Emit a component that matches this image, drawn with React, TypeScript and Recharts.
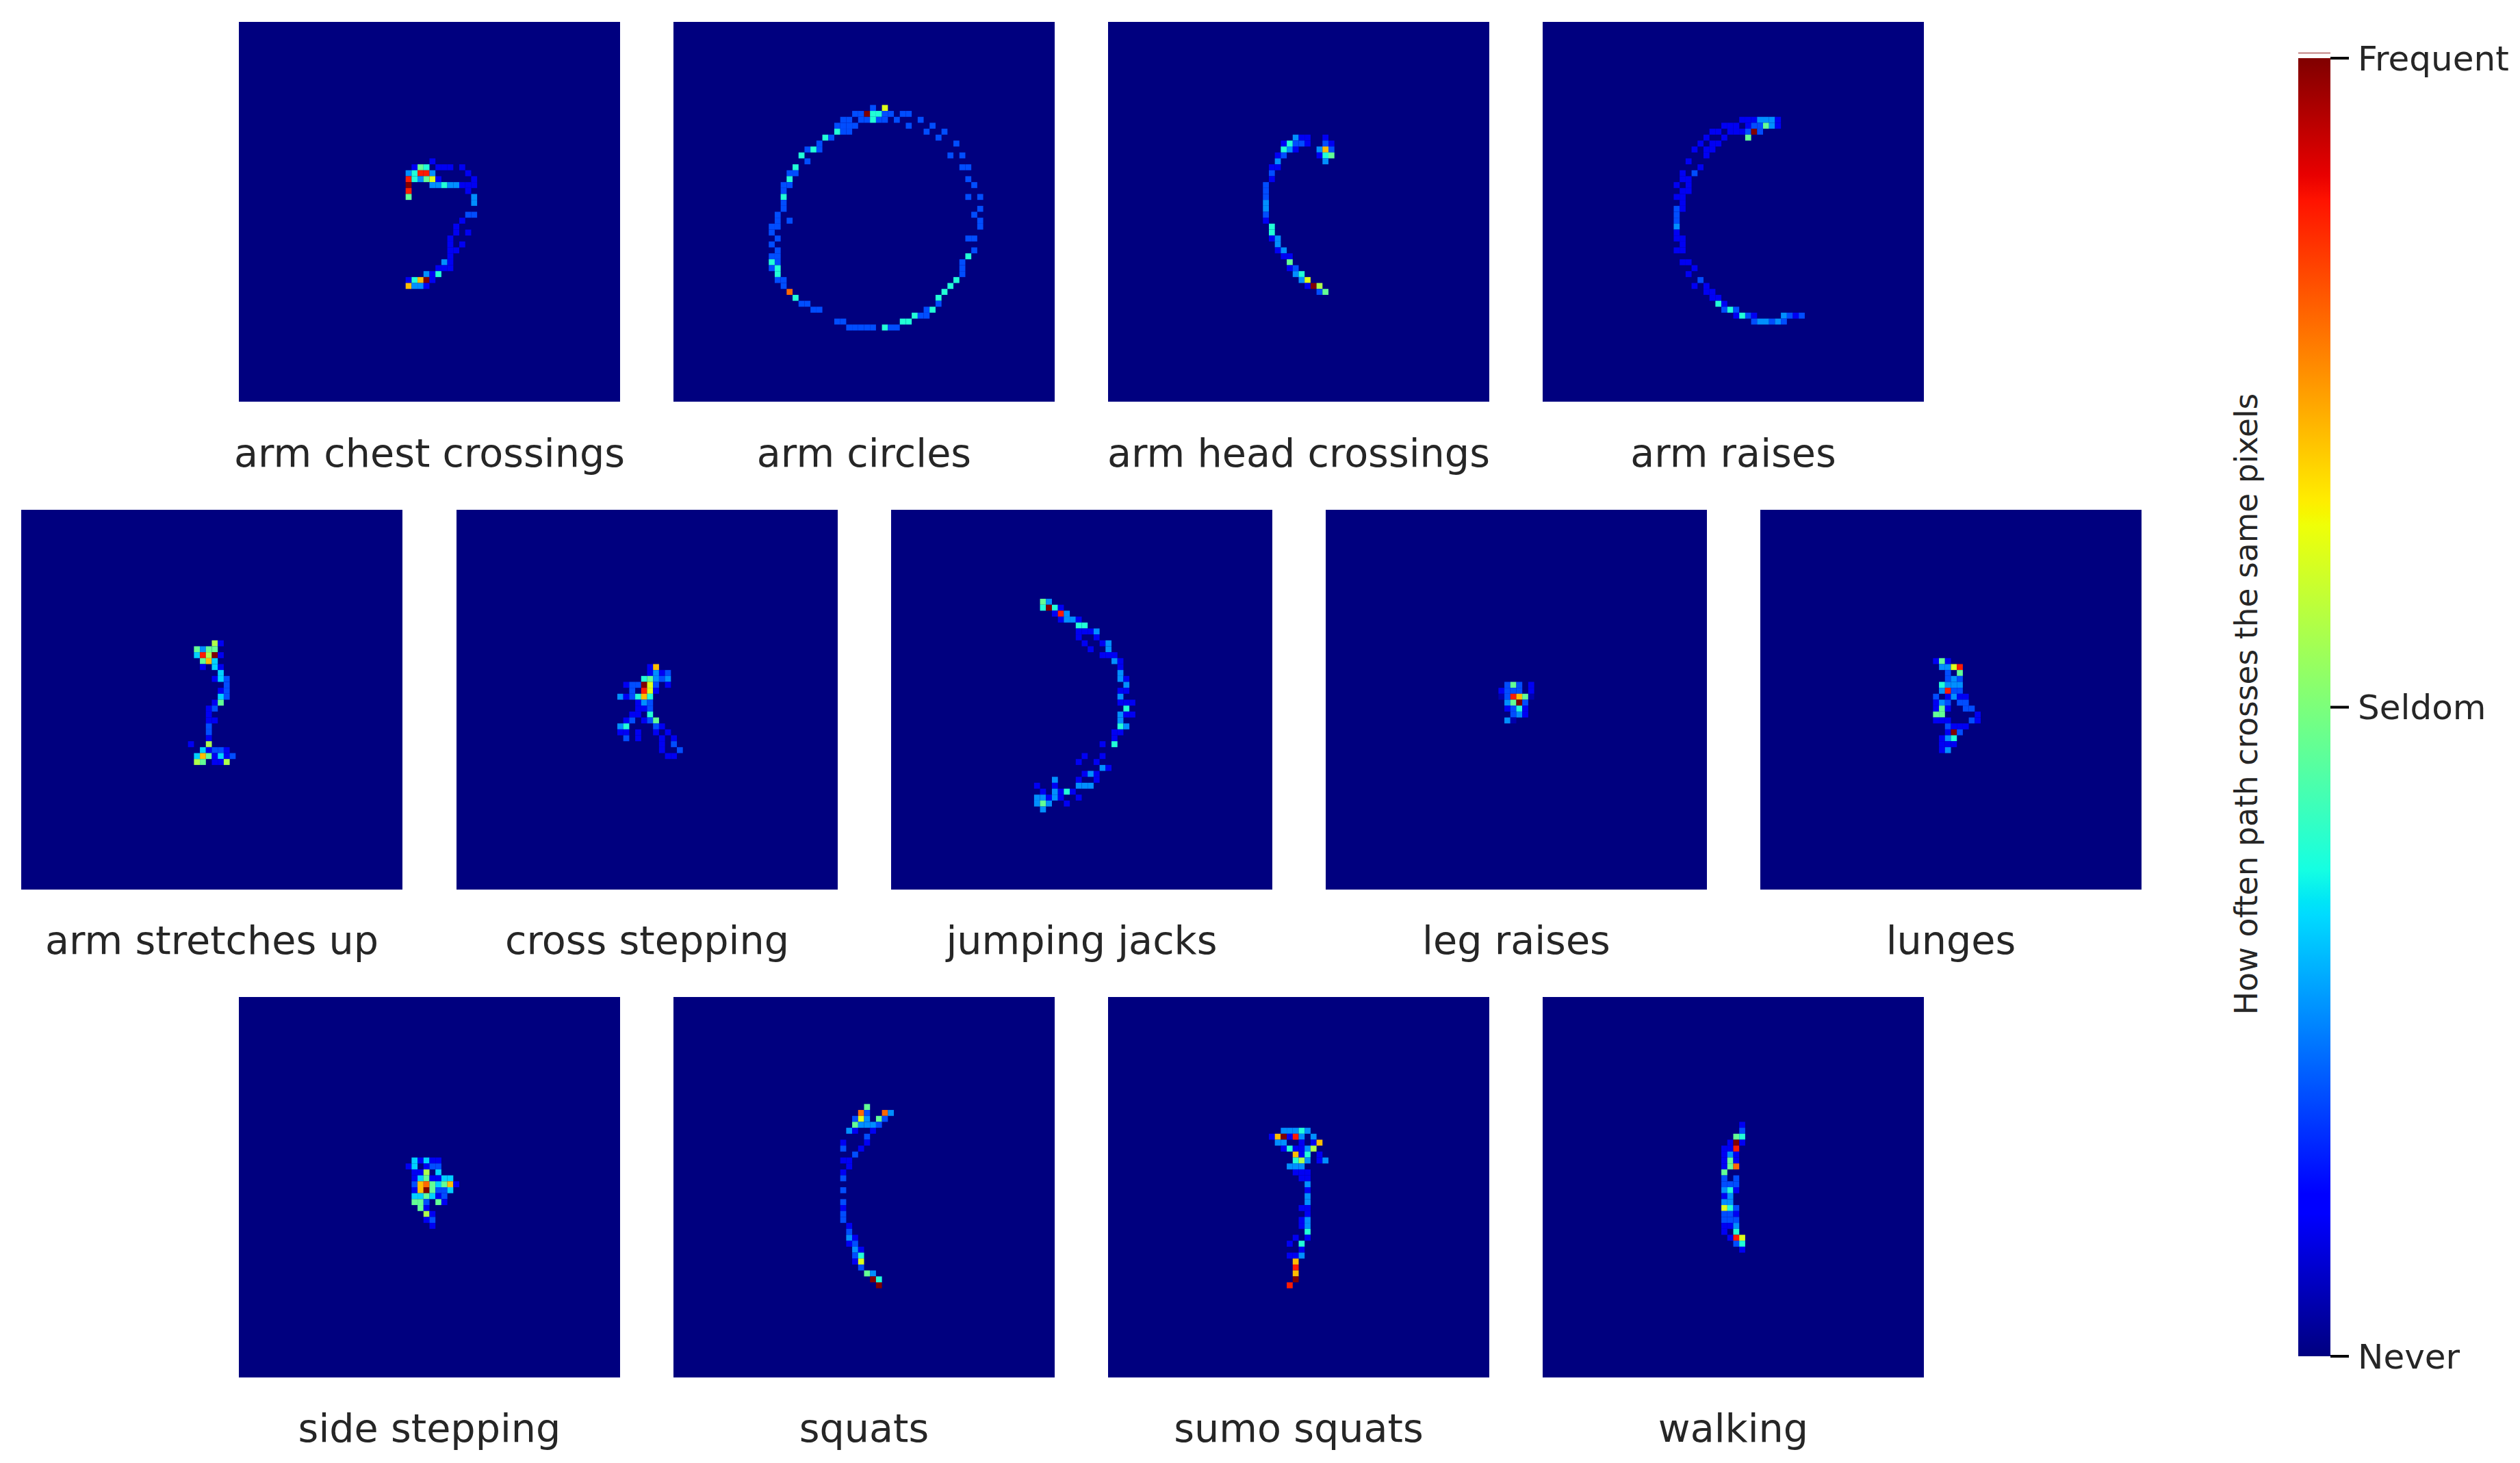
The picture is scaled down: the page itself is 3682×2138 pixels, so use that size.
import React from 'react';
import { Bar, BarChart, ReferenceLine, Scatter, ScatterChart, XAxis, YAxis } from 'recharts';

// [row, col, levels] relative to the panel's first active cell, '.' = never visited
type Run = [number, number, string];

const GRID_SIZE = 64;
const NAVY = '#00007f';
const TEXT = '#262626';

const categories = [
  'arm chest crossings', 'arm circles', 'arm head crossings', 'arm raises',
  'arm stretches up', 'cross stepping', 'jumping jacks', 'leg raises', 'lunges',
  'side stepping', 'squats', 'sumo squats', 'walking',
];

const levelValues: Record<string, number> = {
  '0': 0.04, '1': 0.1, '2': 0.2, '3': 0.265, '4': 0.33, '5': 0.39, '6': 0.47,
  '7': 0.56, '8': 0.62, '9': 0.71, o: 0.8, r: 0.88, x: 1,
};

const armChestCrossings: Run[] = [
  [0, 4, '1'], [1, 1, '165.111.1'], [2, 0, '35rr3.....1'], [3, 0, 'r53681.....1'],
  [4, 0, 'x...33533111'], [5, 0, 'r.........1'], [6, 0, '6..........3'], [7, 11, '3'],
  [9, 10, '22'], [10, 9, '1'], [11, 8, '1'], [12, 8, '1.1'], [13, 7, '1'], [14, 7, '1.1'],
  [15, 7, '11'], [16, 7, '1'], [17, 6, '31'], [18, 5, '111'], [19, 3, '315'],
  [20, 0, '159x1'], [21, 0, '9331'],
];

const armCircles: Run[] = [
  [0, 17, '2.8'], [1, 14, '22x5522.22'], [2, 12, '22.22522.2'], [2, 25, '2'],
  [3, 11, '2222'], [3, 23, '2...2'], [4, 11, '522'], [4, 26, '2..2'], [5, 9, '52'], [5, 28, '2'],
  [6, 8, '2'], [6, 31, '2'], [7, 6, '252'], [8, 5, '5'], [8, 30, '2.2'], [9, 6, '2'],
  [10, 4, '5'], [10, 32, '22'], [11, 3, '22'], [12, 3, '5'], [12, 33, '2'], [13, 2, '22'], [13, 34, '2'],
  [14, 2, '2'], [15, 2, '5'], [15, 33, '2.2'], [16, 2, '2'], [17, 2, '2'], [17, 35, '2'],
  [18, 1, '2'], [18, 34, '2'], [19, 1, '2.2'], [19, 35, '2'], [20, 0, '22'], [20, 35, '2'],
  [21, 0, '2'], [22, 1, '2'], [22, 33, '22'], [23, 0, '2'], [24, 1, '2'], [24, 34, '2'],
  [25, 0, '22'], [25, 33, '5'], [26, 0, '52'], [26, 32, '2'], [27, 0, '25'], [27, 32, '2'],
  [28, 1, '5'], [28, 32, '2'], [29, 1, '22'], [29, 31, '5'], [30, 2, '2'], [30, 30, '5'],
  [31, 3, 'o'], [31, 29, '5'], [32, 4, '5'], [32, 28, '5'], [33, 5, '22'], [33, 28, '2'],
  [34, 7, '22'], [34, 26, '25'], [35, 24, '522'], [36, 11, '22'], [36, 22, '55'],
  [37, 13, '22222.522'],
];

const armHeadCrossings: Run[] = [
  [0, 5, '311'], [0, 10, '1'], [1, 3, '15221'], [1, 10, '21'], [2, 3, '531'], [2, 9, '392'],
  [3, 2, '12'], [3, 9, '156'], [4, 2, '3'], [4, 10, '3'], [5, 1, '11'], [6, 1, '2'], [7, 1, '1'],
  [8, 0, '2'], [9, 0, '2'], [10, 0, '2'], [11, 0, '3'], [12, 0, '3'], [13, 0, '2'], [14, 0, '1'],
  [15, 1, '5'], [16, 1, '5'], [17, 1, '13'], [18, 2, '3'], [19, 2, '13'], [20, 3, '11'],
  [21, 4, '6'], [22, 4, '12'], [23, 5, '35'], [24, 6, '38'], [25, 7, '1x7'], [26, 9, '26'],
];

const armRaises: Run[] = [
  [0, 11, '1113331'], [1, 8, '111'], [1, 12, '122631'], [2, 6, '11'], [2, 9, '1112x2'],
  [3, 5, '1'], [3, 8, '1'], [3, 12, '6'], [4, 4, '1'], [4, 6, '11'], [5, 3, '1'], [5, 5, '11'],
  [6, 5, '1'], [7, 2, '1'], [8, 4, '1'], [9, 1, '1.2'], [10, 1, '11'], [11, 0, '1.1'],
  [12, 1, '11'], [13, 0, '11'], [14, 1, '1'], [15, 0, '21'], [16, 0, '2'], [17, 0, '2'],
  [18, 0, '3'], [19, 0, '1'], [20, 0, '11'], [21, 1, '1'], [22, 0, '11'], [24, 1, '11'],
  [25, 3, '1'], [26, 2, '1'], [27, 4, '2'], [28, 3, '1.1'], [29, 5, '11'], [30, 6, '11'],
  [31, 7, '51'], [32, 8, '252'], [33, 10, '1521'], [33, 18, '3212'], [34, 13, '233232'],
];

const armStretchesUp: Run[] = [
  [0, 4, '71'], [1, 1, '6366'], [2, 1, '4r7x1'], [3, 2, '694'], [4, 2, '1.41'], [5, 5, '4'],
  [6, 4, '142'], [7, 6, '2'], [8, 5, '12'], [9, 5, '42'], [10, 4, '16'], [11, 3, '12'],
  [12, 3, '1'], [13, 3, '11'], [14, 3, '2'], [15, 3, '2'], [16, 3, '1'], [17, 0, '1..7'],
  [18, 2, '41221'], [19, 1, '4961412'], [20, 1, '76.117'],
];

const crossStepping: Run[] = [
  [0, 5, '19'], [1, 5, '1312'], [2, 4, '56323'], [3, 1, '122x82.1'], [4, 2, '2.r81'],
  [5, 0, '312595'], [6, 3, '132'], [7, 3, '112'], [8, 2, '11.5'], [9, 1, '12.126'],
  [10, 0, '35....21'], [11, 0, '11.1..1.1'], [12, 1, '2.1...1.1'], [13, 7, '1.2'],
  [14, 7, '1..2'], [15, 8, '11'],
];

const jumpingJacks: Run[] = [
  [0, 1, '63'], [1, 1, '5x51'], [2, 3, '1r3'], [3, 4, '1331'], [4, 7, '55'], [5, 7, '1113'],
  [6, 7, '1..1'], [7, 8, '1..13'], [8, 9, '1..3'], [9, 11, '111'], [10, 13, '31'], [11, 14, '1'],
  [12, 14, '3'], [13, 14, '31'], [14, 15, '3'], [15, 14, '11'], [16, 14, '3'], [17, 14, '111'],
  [18, 15, '5'], [19, 14, '311'], [20, 14, '3'], [21, 14, '53'], [22, 13, '11'], [23, 13, '1'],
  [24, 11, '1.5'], [26, 8, '1..1'], [27, 7, '1..1'], [28, 11, '31'], [29, 8, '131'],
  [30, 3, '3...1..1'], [31, 0, '1..1...333'], [32, 1, '1.3151'], [33, 0, '33131..1'],
  [34, 0, '363..1'], [35, 1, '3'],
];

const legRaises: Run[] = [
  [0, 1, '262.1'], [1, 0, '1222.1'], [2, 0, '02r960'], [3, 1, '36x2'], [4, 1, '1251'],
  [5, 2, '231'], [6, 1, '30'],
];

const lunges: Run[] = [
  [0, 0, '161'], [1, 1, '338r'], [2, 2, '2.6'], [3, 2, '232'], [4, 1, '5333'], [5, 1, '3r22'],
  [6, 0, '2.1311'], [7, 0, '132.22'], [8, 0, '161..22'], [9, 0, '66.....1'], [10, 0, '111...21'],
  [11, 2, '2111'], [12, 2, '1x2'], [13, 1, '135'], [14, 1, '111'], [15, 1, '13'],
];

const sideStepping: Run[] = [
  [0, 1, '41411'], [1, 0, '14.122'], [2, 1, '117.4'], [3, 1, '1461144'], [4, 1, '29o64691'],
  [5, 1, '19x6224'], [6, 1, '446412'], [7, 1, '662.61'], [8, 2, '61'], [9, 3, '71'],
  [10, 3, '12'], [11, 4, '1'],
];

const squats: Run[] = [
  [0, 4, '6'], [1, 3, 'o2..o3'], [2, 2, '283.62'], [3, 2, '63332'], [4, 1, '31..1'], [5, 4, '2'],
  [6, 0, '1...1'], [7, 0, '2..1'], [8, 2, '2'], [9, 0, '11'], [10, 1, '1'], [11, 0, '1'],
  [12, 0, '2'], [14, 0, '2'], [16, 0, '2'], [17, 0, '1'], [18, 0, '2'], [19, 0, '2'], [20, 1, '1'],
  [21, 1, '2'], [22, 1, '31'], [23, 1, '12'], [24, 2, '31'], [25, 2, '25'], [26, 2, '18'],
  [27, 3, '2'], [28, 4, '63'], [29, 5, 'x5'], [30, 6, 'x'],
];

const sumoSquats: Run[] = [
  [0, 2, '33353'], [1, 0, '19x1r3.3'], [2, 1, '33..1.19'], [3, 2, '151137'], [4, 4, '915.1'],
  [5, 4, '573.13'], [6, 3, '333'], [7, 4, '111'], [8, 5, '11'], [9, 6, '3'], [10, 6, '1'],
  [11, 6, '3'], [12, 6, '3'], [13, 5, '11'], [14, 6, '1'], [15, 5, '13'], [16, 5, '13'],
  [17, 6, '5'], [18, 4, '1.1'], [19, 3, '1.5'], [20, 5, '1'], [21, 3, '113'], [22, 4, '9'],
  [23, 4, 'r'], [24, 4, '9'], [25, 4, 'x'], [26, 3, 'r'],
];

const walking: Run[] = [
  [0, 3, '1'], [1, 3, '2'], [2, 2, '65'], [3, 1, '1x1'], [4, 0, '11r'], [5, 0, '131'], [6, 0, '161'],
  [7, 0, '16o'], [8, 0, '6'], [9, 0, '2.2'], [10, 0, '222'], [11, 0, '351'], [12, 0, '13'],
  [13, 0, '33'], [14, 0, '852'], [15, 0, '221'], [16, 0, '222'], [17, 0, '113'], [18, 0, '1.5'],
  [19, 1, '1r8'], [20, 2, '25'], [21, 3, '1'],
];

const panelRuns = [
  armChestCrossings, armCircles, armHeadCrossings, armRaises,
  armStretchesUp, crossStepping, jumpingJacks, legRaises, lunges,
  sideStepping, squats, sumoSquats, walking,
];

// grid cell of each panel's first active cell [col, row]
const runOrigins: [number, number][] = [
  [28, 23], [16, 14], [26, 19], [22, 16],
  [28, 22], [27, 26], [24, 15], [29, 29], [29, 25],
  [28, 27], [28, 18], [27, 22], [30, 21],
];

const colorbarTicks = [0, 0.5, 1];
const colorbarLabels = ['Never', 'Seldom', 'Frequent'];
const colorbarStops = [0, 0.11, 0.125, 0.34, 0.35, 0.375, 0.64, 0.65, 0.66, 0.89, 0.91, 1];

// left, top, height of each panel, label centre y comes from the row
const PANEL_W = 557;
const rowLayout = [
  { top: 32, height: 555, labelY: 662, lefts: [349, 984, 1619, 2254] },
  { top: 745, height: 555, labelY: 1374, lefts: [31, 667, 1302, 1937, 2572] },
  { top: 1457, height: 556, labelY: 2087, lefts: [349, 984, 1619, 2254] },
];

const RED: number[][] = [[0, 0], [0.35, 0], [0.66, 1], [0.89, 1], [1, 0.5]];
const GREEN: number[][] = [[0, 0], [0.125, 0], [0.375, 1], [0.64, 1], [0.91, 0], [1, 0]];
const BLUE: number[][] = [[0, 0.5], [0.11, 1], [0.34, 1], [0.65, 0], [1, 0]];

const lerp = (pts: number[][], v: number) => {
  for (let i = 1; i < pts.length; i++) {
    if (v <= pts[i][0]) {
      const t = (v - pts[i - 1][0]) / (pts[i][0] - pts[i - 1][0]);
      return pts[i - 1][1] + t * (pts[i][1] - pts[i - 1][1]);
    }
  }
  return pts[pts.length - 1][1];
};

const jet = (v: number) => {
  const c = (pts: number[][]) => Math.round(lerp(pts, v) * 255);
  return `rgb(${c(RED)},${c(GREEN)},${c(BLUE)})`;
};

const toCells = (runs: Run[], origin: [number, number]) =>
  runs.flatMap(([row, col, levels]) =>
    levels.split('').flatMap((ch, i) =>
      ch === '.' ? [] : [{
        col: origin[0] + col + i + 0.5,
        row: origin[1] + row + 0.5,
        value: levelValues[ch],
      }]
    )
  );

const Panel = ({ index, height }: { index: number; height: number }) => {
  const cells = toCells(panelRuns[index], runOrigins[index]);
  const w = PANEL_W / GRID_SIZE;
  const h = height / GRID_SIZE;
  return (
    <ScatterChart width={PANEL_W} height={height} margin={{ top: 0, right: 0, bottom: 0, left: 0 }} style={{ background: NAVY }}>
      <XAxis type="number" dataKey="col" domain={[0, GRID_SIZE]} hide />
      <YAxis type="number" dataKey="row" domain={[0, GRID_SIZE]} reversed hide />
      <Scatter
        data={cells}
        isAnimationActive={false}
        shape={(p: any) => (
          <rect x={p.cx - w / 2} y={p.cy - h / 2} width={w} height={h} fill={jet(p.payload.value)} />
        )}
      />
    </ScatterChart>
  );
};

const Colorbar = () => (
  <BarChart
    width={330}
    height={1977}
    data={[{ name: 'scale', value: 1 }]}
    margin={{ top: 40, right: 0, bottom: 40, left: 0 }}
    barCategoryGap={0}
    style={{ overflow: 'visible' }}
  >
    <defs>
      <linearGradient id="jetScale" x1="0" y1="1" x2="0" y2="0">
        {colorbarStops.map(s => (
          <stop key={s} offset={s} stopColor={jet(s)} />
        ))}
      </linearGradient>
    </defs>
    <XAxis dataKey="name" hide />
    <YAxis
      orientation="right"
      width={283}
      domain={[0, 1]}
      ticks={colorbarTicks}
      interval={0}
      axisLine={false}
      tickSize={27}
      tickMargin={13}
      tickLine={{ stroke: '#000', strokeWidth: 4 }}
      tick={{ fill: TEXT, fontSize: 50, fontFamily: 'DejaVu Sans', textAnchor: 'start' }}
      tickFormatter={(v: number) => colorbarLabels[colorbarTicks.indexOf(v)]}
    />
    <Bar dataKey="value" fill="url(#jetScale)" isAnimationActive={false} />
    <ReferenceLine y={1.004} stroke="#c08080" strokeWidth={2} ifOverflow="visible" />
  </BarChart>
);

const App = () => {
  let index = -1;
  return (
    <div style={{ position: 'absolute', left: 0, top: 0, width: 3682, height: 2138, background: '#fff', fontFamily: 'DejaVu Sans', color: TEXT, overflow: 'hidden' }}>
      {rowLayout.map(row =>
        row.lefts.map(left => {
          index += 1;
          return (
            <React.Fragment key={categories[index]}>
              <div style={{ position: 'absolute', left, top: row.top }}>
                <Panel index={index} height={row.height} />
              </div>
              <div style={{ position: 'absolute', left: left - 100, width: PANEL_W + 200, top: row.labelY - 40, height: 80, lineHeight: '80px', textAlign: 'center', fontSize: 57.2, whiteSpace: 'nowrap' }}>
                {categories[index]}
              </div>
            </React.Fragment>
          );
        })
      )}
      <div style={{ position: 'absolute', left: 3358, top: 45 }}>
        <Colorbar />
      </div>
      <div style={{ position: 'absolute', left: 3283 - 600, width: 1200, top: 1029 - 40, height: 80, lineHeight: '80px', textAlign: 'center', fontSize: 45.6, transform: 'rotate(-90deg)', whiteSpace: 'nowrap' }}>
        How often path crosses the same pixels
      </div>
    </div>
  );
};

export default App;
